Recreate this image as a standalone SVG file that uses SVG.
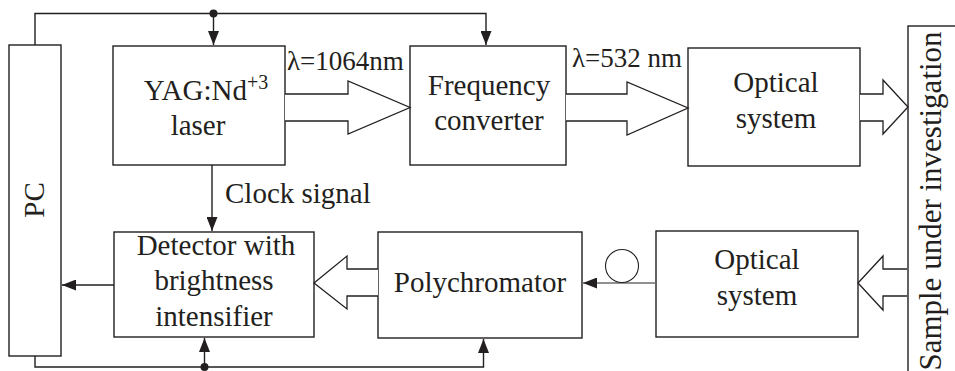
<svg xmlns="http://www.w3.org/2000/svg" width="955" height="371" viewBox="0 0 955 371">
<style>
.box{fill:#fff;stroke:#231f20;stroke-width:1.4}
.t{font-family:"Liberation Serif","Times New Roman",serif;font-size:29px;fill:#231f20;text-anchor:middle}
.lbl{font-family:"Liberation Serif","Times New Roman",serif;font-size:27px;fill:#231f20}
.ln{fill:none;stroke:#231f20;stroke-width:1.4}
.ha{fill:#fff;stroke:#231f20;stroke-width:1.3}
</style>
<defs>
<marker id="ah" markerUnits="userSpaceOnUse" markerWidth="15" markerHeight="11" refX="14" refY="5.5" orient="auto">
<path d="M0,0 L14,5.5 L0,11 z" fill="#231f20"/>
</marker>
</defs>
<rect width="955" height="371" fill="#fff"/>

<g id="pc">
<rect class="box" x="9" y="45" width="52" height="311"/>
<text class="t" transform="translate(44,200) rotate(-90)">PC</text>
</g>
<g id="laser">
<rect class="box" x="113" y="46" width="172" height="119"/>
<text class="t" x="206" y="100">YAG:Nd<tspan font-size="20" dy="-11">+3</tspan></text>
<text class="t" x="198" y="135">laser</text>
</g>
<g id="converter">
<rect class="box" x="410" y="46" width="156" height="119"/>
<text class="t" x="489" y="95">Frequency</text>
<text class="t" x="489" y="130">converter</text>
</g>
<g id="optical1">
<rect class="box" x="688" y="48" width="172" height="118"/>
<text class="t" x="776" y="92">Optical</text>
<text class="t" x="776" y="128">system</text>
</g>
<g id="sample">
<rect class="box" x="908" y="26" width="60" height="360"/>
<text class="t" transform="translate(941,201) rotate(-90)" style="font-size:31px">Sample under investigation</text>
</g>
<g id="detector">
<rect class="box" x="114" y="232" width="200" height="105"/>
<text class="t" x="216" y="255">Detector with</text>
<text class="t" x="214" y="290">brightness</text>
<text class="t" x="214" y="326">intensifier</text>
</g>
<g id="polychromator">
<rect class="box" x="378" y="232" width="204" height="106"/>
<text class="t" x="480" y="292">Polychromator</text>
</g>
<g id="optical2">
<rect class="box" x="656" y="231" width="202" height="106"/>
<text class="t" x="757" y="269">Optical</text>
<text class="t" x="757" y="305">system</text>
</g>

<g id="connectors">
<polyline class="ln" points="35,45 35,13.5 486,13.5 486,45" marker-end="url(#ah)"/>
<line class="ln" x1="213.5" y1="13.5" x2="213.5" y2="45" marker-end="url(#ah)"/>
<circle cx="213.5" cy="13.5" r="4" fill="#231f20"/>
<line class="ln" x1="212" y1="165" x2="212" y2="231" marker-end="url(#ah)"/>
<polyline class="ln" points="35,356 35,367 483.5,367 483.5,339" marker-end="url(#ah)"/>
<line class="ln" x1="204.5" y1="367" x2="204.5" y2="338" marker-end="url(#ah)"/>
<circle cx="204.5" cy="367" r="4" fill="#231f20"/>
<line class="ln" x1="114" y1="285" x2="62" y2="285" marker-end="url(#ah)"/>
<line class="ln" x1="656" y1="283" x2="583" y2="283" marker-end="url(#ah)" style="stroke:#6d6d6d"/>
<circle cx="622" cy="266" r="16.5" fill="none" stroke="#231f20" stroke-width="1.1"/>
<polyline class="ha" points="285,94 348,94 348,81 410,107.5 348,134 348,121 285,121"/>
<polyline class="ha" points="566,94 627,94 627,82 688,108 627,135 627,121 566,121"/>
<polyline class="ha" points="860,94 883,94 883,80 908,107 883,134 883,121 860,121"/>
<polyline class="ha" points="907,269 883,269 883,256 858,283 883,310 883,296 907,296"/>
<polyline class="ha" points="378,269 347,269 347,256 314,283 347,309 347,296 378,296"/>
</g>
<text class="lbl" x="287" y="70">λ=1064nm</text>
<text class="lbl" x="572" y="67">λ=532 nm</text>
<text class="lbl" x="225" y="203" style="font-size:29px">Clock signal</text>
</svg>
